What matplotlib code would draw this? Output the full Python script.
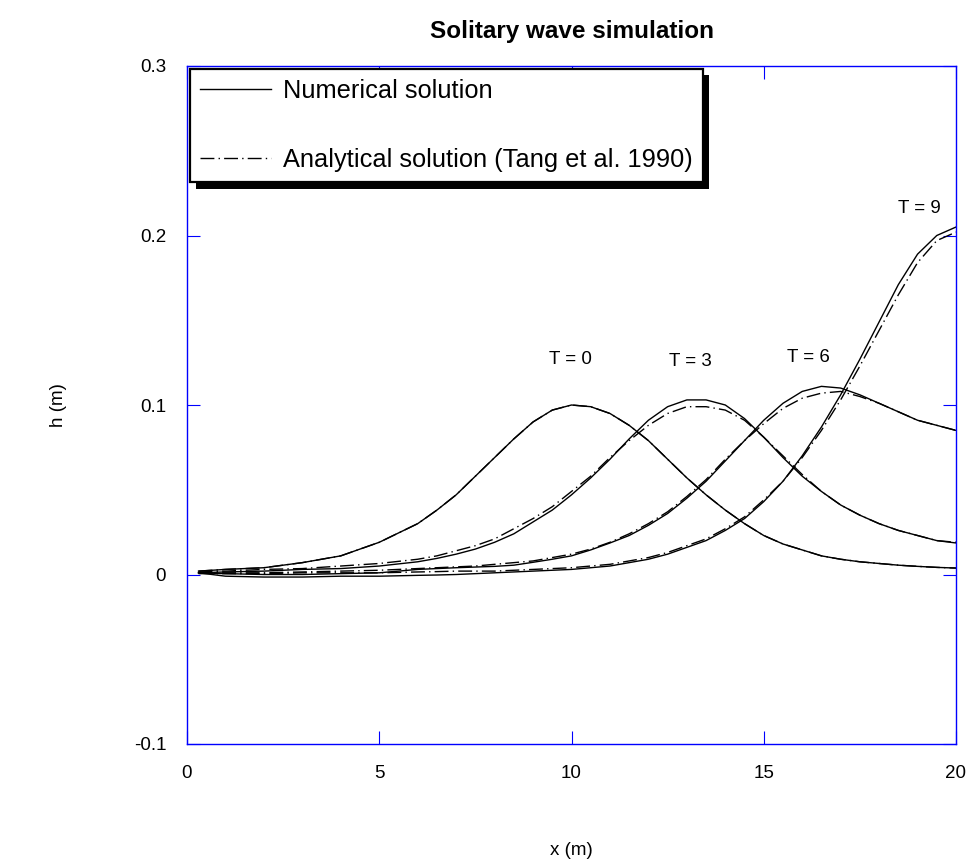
import matplotlib
matplotlib.use("Agg")
import matplotlib.pyplot as plt
import matplotlib.patheffects as pe

plt.rcParams['font.family'] = ['Liberation Sans', 'DejaVu Sans']

# grid positions (m): coarse in the flat tail, finer where the waves are
x = [0.3, 1, 2, 3, 4, 5, 6, 6.5, 7, 7.5, 8, 8.5, 9, 9.5, 10, 10.5, 11, 11.5, 12, 12.5,
     13, 13.5, 14, 14.5, 15, 15.5, 16, 16.5, 17, 17.5, 18, 18.5, 19, 19.5, 20]

# numerical solution, h (m)
num_t0 = [0.002, 0.003, 0.004, 0.007, 0.011, 0.019, 0.030, 0.038, 0.047, 0.058, 0.069,
          0.080, 0.090, 0.097, 0.100, 0.099, 0.095, 0.088, 0.079, 0.068, 0.057, 0.047,
          0.038, 0.030, 0.023, 0.018, 0.0145, 0.011, 0.009, 0.0075, 0.0065, 0.0055,
          0.0048, 0.0042, 0.0038]
num_t3 = [0.001, 0.0015, 0.002, 0.003, 0.0035, 0.005, 0.0075, 0.0095, 0.012, 0.015, 0.019,
          0.024, 0.031, 0.038, 0.047, 0.057, 0.068, 0.080, 0.091, 0.099, 0.103, 0.103,
          0.100, 0.092, 0.081, 0.069, 0.058, 0.049, 0.041, 0.035, 0.030, 0.026,
          0.023, 0.020, 0.0186]
num_t6 = [0.001, 0.0005, 0.0, 0.0, 0.0005, 0.001, 0.003, 0.0035, 0.004, 0.0044, 0.0048,
          0.0055, 0.0072, 0.009, 0.011, 0.0145, 0.0186, 0.023, 0.029, 0.036, 0.045, 0.055,
          0.067, 0.079, 0.091, 0.101, 0.108, 0.111, 0.110, 0.106, 0.101, 0.096,
          0.091, 0.088, 0.085]
num_t9 = [0.001, -0.001, -0.0015, -0.0015, -0.001, -0.001, -0.0005, -0.0003, 0.0, 0.0005, 0.001,
          0.0015, 0.002, 0.0025, 0.003, 0.004, 0.005, 0.007, 0.009, 0.012, 0.016, 0.020,
          0.026, 0.033, 0.043, 0.055, 0.070, 0.087, 0.106, 0.127, 0.149, 0.171,
          0.189, 0.200, 0.205]

# analytical solution (Tang et al. 1990), h (m)
ana_t0 = [0.002, 0.003, 0.004, 0.007, 0.011, 0.019, 0.030, 0.038, 0.047, 0.058, 0.069,
          0.080, 0.090, 0.097, 0.100, 0.099, 0.095, 0.088, 0.079, 0.068, 0.057, 0.047,
          0.038, 0.030, 0.023, 0.018, 0.0145, 0.011, 0.009, 0.0075, 0.0065, 0.0055,
          0.0048, 0.0042, 0.0038]
ana_t3 = [0.0015, 0.002, 0.003, 0.0035, 0.005, 0.0065, 0.009, 0.011, 0.014, 0.017, 0.021,
          0.027, 0.033, 0.040, 0.049, 0.058, 0.069, 0.079, 0.088, 0.095, 0.099, 0.099,
          0.097, 0.091, 0.081, 0.070, 0.059, 0.049, 0.041, 0.035, 0.030, 0.026,
          0.023, 0.020, 0.019]
ana_t6 = [0.001, 0.001, 0.001, 0.0015, 0.002, 0.0025, 0.0035, 0.004, 0.0045, 0.005, 0.006,
          0.007, 0.008, 0.010, 0.012, 0.015, 0.019, 0.024, 0.030, 0.037, 0.046, 0.056,
          0.068, 0.079, 0.089, 0.098, 0.104, 0.107, 0.108, 0.105, 0.101, 0.096,
          0.091, 0.088, 0.085]
ana_t9 = [0.0005, 0.0005, 0.0005, 0.001, 0.001, 0.001, 0.0015, 0.0017, 0.002, 0.002, 0.002,
          0.0025, 0.003, 0.0035, 0.004, 0.005, 0.006, 0.008, 0.010, 0.013, 0.017, 0.021,
          0.027, 0.034, 0.044, 0.055, 0.069, 0.085, 0.103, 0.123, 0.144, 0.165,
          0.184, 0.197, 0.202]

time_labels = ["T = 0", "T = 3", "T = 6", "T = 9"]
label_x = [9.96, 13.1, 16.15, 19.06]
label_y = [0.1266, 0.1255, 0.128, 0.216]

xticks = [0, 5, 10, 15, 20]
yticks = [-0.1, 0, 0.1, 0.2, 0.3]
ytick_labels = ["-0.1", "0", "0.1", "0.2", "0.3"]

fig = plt.figure(figsize=(9.75, 8.67), dpi=100)
ax = fig.add_axes([187 / 975, 1 - 744 / 867, (956 - 187) / 975, (744 - 66) / 867])

dash = (0, (10, 3, 1, 3))
first = True
for num, ana in zip([num_t0, num_t3, num_t6, num_t9], [ana_t0, ana_t3, ana_t6, ana_t9]):
    ax.plot(x, num, color="black", lw=1.0,
            label="Numerical solution" if first else None)
    ax.plot(x, ana, color="black", lw=1.0, linestyle=dash,
            label="Analytical solution (Tang et al. 1990)" if first else None)
    first = False

for lab, lx, ly in zip(time_labels, label_x, label_y):
    ax.text(lx, ly, lab, ha="center", va="center", fontsize=13.5)

ax.set_xlim(0, 20)
ax.set_ylim(-0.1, 0.3)
ax.set_xticks(xticks)
ax.set_xticklabels([str(t) for t in xticks])
ax.set_yticks(yticks)
ax.set_yticklabels(ytick_labels)

for s in ax.spines.values():
    s.set_color("blue")
    s.set_linewidth(1.0)
ax.tick_params(direction="in", length=9.5, width=0.8, color="blue",
               top=True, right=True, labelsize=13.5, pad=15)

ax.set_xlabel("x (m)", fontsize=13.5, labelpad=43)
ax.set_ylabel("h (m)", fontsize=13.5, labelpad=48)
ax.set_title("Solitary wave simulation", fontsize=17.5, fontweight="bold", pad=20)

leg = ax.legend(loc="upper left", bbox_to_anchor=(0, 1), borderaxespad=0.1,
                fontsize=18.3, fancybox=False, handlelength=2.8, handletextpad=0.45,
                labelspacing=1.75, borderpad=0.42, framealpha=1)
frame = leg.get_frame()
frame.set_edgecolor("black")
frame.set_linewidth(1.6)
frame.set_path_effects([pe.SimplePatchShadow(offset=(4.5, -4.5), shadow_rgbFace="black", alpha=1.0),
                        pe.Normal()])

fig.savefig("out.png", dpi=100)
